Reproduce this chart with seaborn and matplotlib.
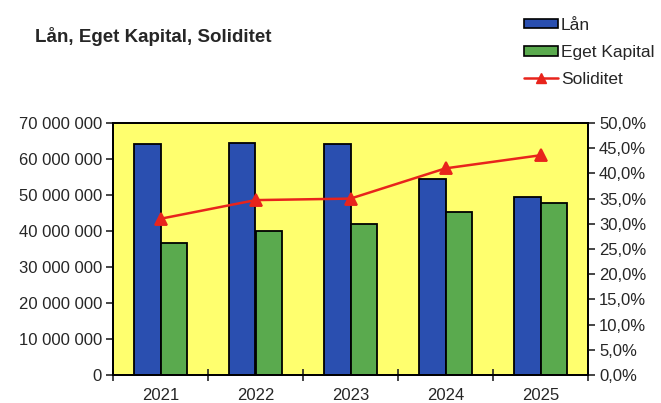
import pandas as pd
import numpy as np
import matplotlib
matplotlib.use("Agg")
import matplotlib.pyplot as plt
import seaborn as sns
from matplotlib.ticker import FuncFormatter, FixedLocator
from matplotlib.patches import Patch
from matplotlib.lines import Line2D

years = ["2021", "2022", "2023", "2024", "2025"]
lan = [64300000, 64500000, 64300000, 54500000, 49500000]
eget_kapital = [36600000, 39900000, 42000000, 45200000, 47800000]
soliditet = [31.0, 34.7, 35.0, 41.0, 43.6]

df = pd.DataFrame({
    "year": years * 2,
    "value": lan + eget_kapital,
    "serie": ["Lån"] * 5 + ["Eget Kapital"] * 5,
})

sns.set_theme(style="white")
plt.rcParams["font.family"] = ["Liberation Sans", "DejaVu Sans"]

blue = "#2a4fb0"
green = "#5aaa4e"
yellow = "#ffff6e"

fig = plt.figure(figsize=(6.61, 4.03), dpi=100)
ax = fig.add_axes([113 / 661, 1 - 375 / 403, 475 / 661, 252 / 403])
ax.set_facecolor(yellow)

sns.barplot(data=df, x="year", y="value", hue="serie", palette=[blue, green],
            saturation=1, edgecolor="black", linewidth=1.3, width=0.56, gap=0,
            ax=ax, legend=False)

ax.set_xlim(-0.5, 4.5)
ax.set_ylim(0, 70000000)
ax.set_yticks(np.arange(0, 70000001, 10000000))
ax.yaxis.set_major_formatter(FuncFormatter(lambda v, p: f"{int(v):,}".replace(",", " ")))
ax.set_xlabel("")
ax.set_ylabel("")
ax.tick_params(axis="x", which="major", length=0, labelsize=12, pad=9)
ax.xaxis.set_minor_locator(FixedLocator(np.arange(-0.5, 5, 1)))
ax.tick_params(axis="x", which="minor", length=8, width=1.2, direction="inout", bottom=True)
ax.tick_params(axis="y", length=5, width=1.2, direction="out", left=True, labelsize=12, pad=3)
for s in ax.spines.values():
    s.set_color("black")
    s.set_linewidth(1.3)

ax2 = ax.twinx()
sns.pointplot(x=years, y=soliditet, ax=ax2, color="#e8241c", markers="^",
              markersize=8, linewidth=1.8)
ax2.set_ylim(0, 50)
ax2.set_xlim(-0.5, 4.5)
ax2.set_yticks(np.arange(0, 50.1, 5))
ax2.yaxis.set_major_formatter(FuncFormatter(lambda v, p: f"{v:.1f}%".replace(".", ",")))
ax2.tick_params(axis="y", length=5, width=1.2, direction="out", right=True, labelsize=12, pad=3)
ax2.set_ylabel("")
for s in ax2.spines.values():
    s.set_color("black")
    s.set_linewidth(1.3)

fig.text(35 / 661, 1 - 36 / 403, "Lån, Eget Kapital, Soliditet", fontsize=13.5,
         fontweight="bold", va="center", ha="left")

handles = [
    Patch(facecolor=blue, edgecolor="black", linewidth=1.2),
    Patch(facecolor=green, edgecolor="black", linewidth=1.2),
    Line2D([], [], color="#e8241c", marker="^", markersize=7, linewidth=1.8),
]
fig.legend(handles, ["Lån", "Eget Kapital", "Soliditet"], loc="upper left",
           bbox_to_anchor=(508 / 661, 1 - 2 / 403), frameon=False, fontsize=12.5,
           labelspacing=0.7, handlelength=2.0, handleheight=0.5, handletextpad=0.15)

fig.savefig("out.png", dpi=100, facecolor="white")
